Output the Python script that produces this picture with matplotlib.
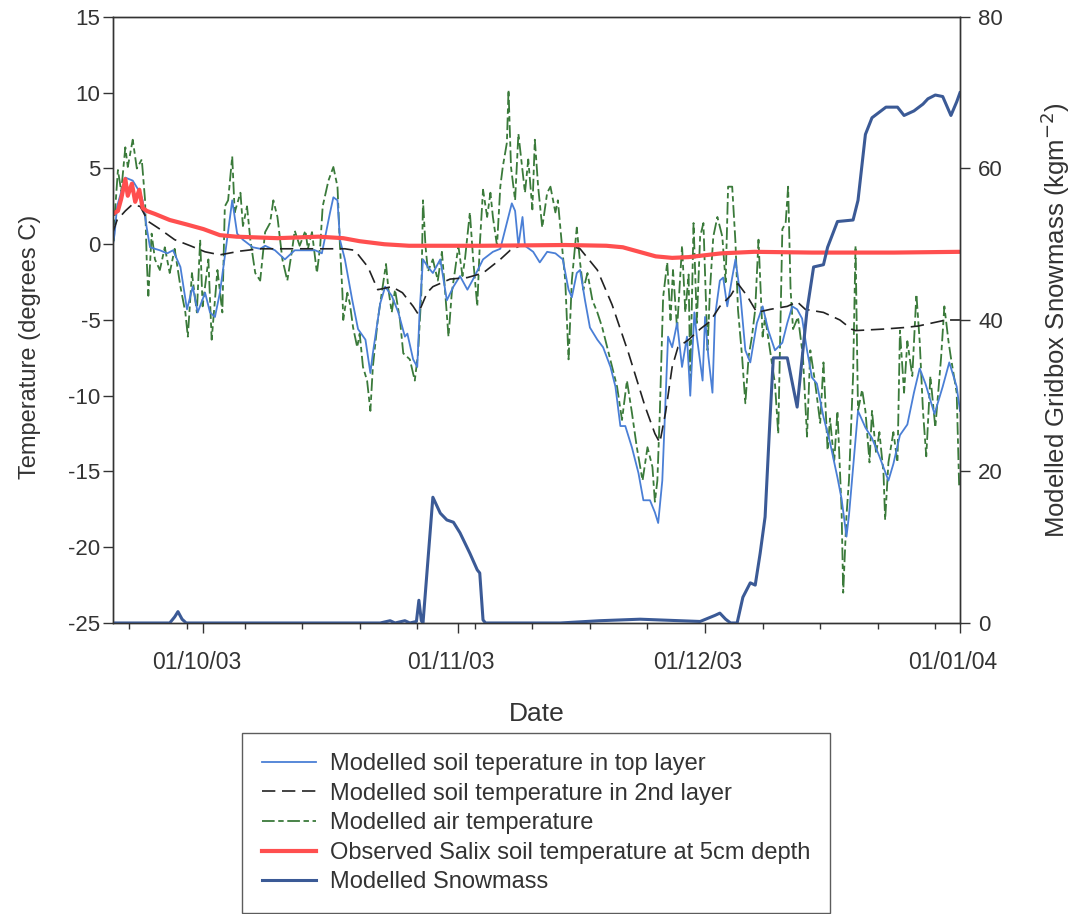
import matplotlib
matplotlib.use("Agg")
import matplotlib.pyplot as plt
import matplotlib.dates as mdates
import matplotlib.transforms as mtransforms
import numpy as np
import pandas as pd

plt.rcParams["font.family"] = ["Liberation Sans", "DejaVu Sans"]
plt.rcParams["axes.unicode_minus"] = False

# days since 20/09/2003
START = pd.Timestamp("2003-09-20")

air_day = [0.1, 0.2, 0.6, 1.0, 1.5, 1.8, 2.4, 2.9, 3.5, 3.9, 4.1, 4.3, 4.7, 5.1, 5.7, 6.3, 6.9, 7.5, 8.2, 8.8,
           9.1, 9.6, 10.2, 10.6, 10.9, 11.6, 12.0, 12.7, 13.3, 13.6, 14.0, 14.5, 14.8, 15.5, 15.8, 16.3, 16.7, 17.3, 17.9, 18.5,
           19.1, 19.5, 20.0, 20.6, 21.2, 21.8, 22.1, 22.7, 23.4, 23.7, 24.2, 24.8, 25.2, 25.5, 26.2, 26.8, 27.3, 27.6, 27.9, 28.0,
           28.5, 28.8, 29.2, 29.7, 30.0, 30.4, 30.9, 31.3, 31.6, 32.2, 32.8, 33.2, 33.5, 33.9, 34.3, 34.9, 35.3, 36.1, 36.7, 37.1,
           37.5, 37.7, 38.0, 38.3, 38.9, 39.5, 40.0, 40.4, 40.8, 41.2, 41.6, 42.0, 42.5, 42.8, 43.4, 43.8, 44.3, 44.6, 45.0, 45.5,
           45.9, 46.2, 46.7, 47.1, 47.4, 47.9, 48.1, 48.4, 48.9, 49.3, 49.8, 50.1, 50.5, 51.0, 51.3, 51.7, 52.2, 52.8, 53.2, 53.8,
           54.1, 54.6, 55.0, 55.4, 55.8, 56.4, 56.8, 57.2, 57.7, 58.3, 58.9, 59.5, 60.1, 60.7, 61.3, 61.9, 62.5, 63.1, 63.7, 64.4,
           65.0, 65.6, 65.9, 66.2, 66.5, 66.9, 67.4, 67.8, 68.1, 68.6, 69.2, 69.6, 70.0, 70.2, 70.6, 71.0, 71.4, 71.8, 72.3, 72.6,
           73.0, 73.5, 74.1, 74.5, 74.8, 75.3, 75.7, 76.0, 76.5, 76.9, 77.3, 77.7, 78.1, 78.5, 79.0, 79.3, 79.9, 80.5, 80.9, 81.4,
           81.8, 82.1, 82.4, 82.7, 83.3, 83.9, 84.4, 84.8, 85.4, 86.0, 86.4, 86.9, 87.2, 87.7, 88.1, 88.6, 88.8, 89.2, 89.5, 90.0,
           90.3, 90.6, 91.1, 91.5, 92.0, 92.3, 92.8, 93.2, 93.7, 93.9, 94.3, 94.9, 95.4, 95.7, 96.2, 96.6, 97.2, 97.7, 98.1, 98.5,
           98.9, 99.4, 100.0, 100.7, 101.1, 101.6, 101.9, 102.6, 102.9]
air_temp = [0.2, 1.8, 4.9, 3.5, 6.4, 5.1, 6.9, 5.0, 5.6, 2.9, -1.0, -3.4, 0.7, -1.0, -1.7, -0.2, -1.9, -0.3, -2.8, -4.5,
            -6.1, -1.9, -4.5, 0.3, -4.1, -1.0, -6.3, -1.7, -4.5, 2.5, 2.9, 5.8, 2.1, 3.4, 1.2, 2.5, 0.3, -1.9, -2.4, 0.8,
            1.4, 2.9, 1.8, -1.0, -2.4, -0.3, 0.9, -0.1, 0.9, -0.3, 0.8, -1.9, -0.1, 2.5, 4.2, 5.1, 3.8, -0.1, -3.2, -5.0,
            -3.2, -3.9, -5.5, -6.8, -5.9, -8.1, -9.0, -11.0, -8.1, -5.0, -2.8, -1.3, -3.0, -4.5, -3.0, -5.0, -7.2, -7.6, -9.0, -7.2,
            -3.2, 2.9, -0.1, -1.8, -1.0, -2.4, -0.5, -3.2, -6.1, -3.2, -1.7, -0.1, -2.1, -1.0, 2.1, -1.0, -4.1, -0.1, 3.6, 1.8,
            3.4, 1.8, -0.1, 3.8, 5.1, 6.7, 10.2, 5.1, 2.9, 7.3, 4.9, 3.4, 5.6, 2.3, 6.9, 3.8, 1.1, 3.4, 3.8, 2.1,
            2.9, -0.1, -2.4, -7.6, -2.4, 1.1, -1.2, -3.0, -1.9, -3.7, -4.5, -5.5, -6.8, -8.1, -9.4, -11.6, -9.0, -11.1, -13.4, -15.6,
            -13.4, -14.7, -17.0, -15.6, -11.1, -3.5, -1.2, -5.0, -1.7, -5.6, -0.1, -4.5, -2.0, -9.0, 1.4, -5.2, 0.5, 1.4, -7.0, -3.0,
            0.5, 1.8, 0.5, -2.5, 3.8, 3.8, 0.1, -4.3, -7.4, -10.5, -7.4, -6.1, -4.3, 0.3, -6.1, -4.8, -7.0, -9.2, -12.5, 1.0,
            1.4, 3.8, -3.0, -5.6, -4.8, -7.4, -12.7, -7.0, -9.2, -11.8, -7.8, -13.6, -11.5, -14.4, -11.0, -17.5, -23.0, -17.9, -15.6, -8.7,
            -0.1, -11.0, -9.6, -11.0, -14.4, -11.0, -13.8, -12.4, -15.1, -18.2, -14.4, -12.4, -14.4, -5.7, -9.8, -6.4, -8.7, -3.3, -6.4, -11.0,
            -14.0, -8.7, -12.1, -7.5, -4.1, -6.4, -7.5, -9.8, -16.0]

top_day = [0.0, 0.2, 0.5, 1.5, 2.4, 3.3, 3.6, 4.1, 4.5, 5.7, 6.6, 7.3, 8.2, 9.0, 9.7, 10.3, 11.2, 11.8, 12.4, 13.0,
           13.6, 14.5, 15.1, 15.8, 17.0, 17.9, 18.5, 19.7, 20.9, 22.1, 24.6, 25.4, 26.4, 26.8, 27.3, 27.6, 28.2, 29.1, 29.8, 30.7,
           31.3, 31.6, 32.5, 33.1, 33.9, 34.7, 35.5, 35.8, 36.5, 37.0, 37.3, 37.7, 38.3, 38.9, 39.8, 40.6, 41.4, 42.2, 43.1, 43.8,
           45.0, 46.2, 47.1, 47.9, 48.5, 48.9, 49.3, 49.8, 50.1, 51.1, 51.9, 52.8, 53.8, 54.7, 55.4, 55.8, 56.4, 56.8, 57.4, 58.0,
           58.9, 59.6, 60.5, 61.1, 61.7, 62.3, 63.1, 63.9, 64.5, 65.3, 65.9, 66.3, 66.8, 67.2, 67.5, 68.0, 68.6, 69.2, 69.8, 70.2,
           70.7, 71.0, 71.7, 72.0, 72.4, 72.9, 73.2, 73.8, 74.2, 74.7, 75.3, 75.7, 76.3, 76.9, 77.5, 78.3, 79.0, 79.7, 80.5, 81.4,
           82.0, 82.6, 83.2, 83.8, 84.4, 85.0, 85.6, 86.4, 87.2, 88.1, 88.6, 89.2, 89.5, 90.3, 90.6, 91.5, 92.3, 93.2, 94.3, 94.9,
           95.7, 96.6, 97.4, 98.1, 98.8, 99.9, 100.9, 101.7, 102.6, 103.0]
top_temp = [0.0, 0.7, 2.5, 4.4, 4.2, 3.4, 2.9, 1.1, -0.2, -0.4, -0.6, -0.4, -1.5, -4.3, -2.8, -4.5, -3.2, -4.5, -4.8, -3.2,
            -0.8, 2.9, 0.7, 0.3, -0.2, -0.3, -0.1, -0.4, -1.0, -0.4, -0.4, -0.6, 2.1, 3.1, 2.9, 0.3, -1.0, -3.7, -5.6, -6.3,
            -8.5, -7.2, -3.9, -2.8, -3.4, -4.5, -6.1, -5.9, -7.6, -8.1, -4.3, -1.0, -1.5, -1.9, -1.0, -3.7, -2.8, -2.1, -3.0, -2.3,
            -1.0, -0.5, -0.3, 1.4, 2.7, 2.2, -0.1, 1.8, -0.1, -0.5, -1.2, -0.5, -0.6, -1.0, -3.0, -3.5, -1.9, -1.7, -3.7, -5.5,
            -6.3, -6.8, -8.1, -9.4, -12.0, -12.0, -13.4, -15.1, -16.9, -16.9, -17.7, -18.4, -15.6, -10.1, -6.1, -6.8, -5.2, -8.1, -6.1, -10.0,
            -4.5, -6.1, -9.0, -4.8, -7.4, -9.8, -4.8, -2.4, -2.2, -4.1, -2.2, -1.0, -3.4, -7.0, -7.8, -5.2, -4.1, -5.7, -7.0, -6.5,
            -5.2, -4.1, -4.3, -4.9, -7.0, -8.8, -9.2, -11.4, -13.1, -15.4, -16.8, -19.3, -17.9, -12.9, -11.0, -12.1, -12.8, -14.0, -15.6, -14.5,
            -12.6, -11.9, -9.8, -8.2, -9.2, -11.2, -9.4, -7.8, -9.4, -11.0]

second_day = [0.0, 0.5, 1.5, 2.3, 3.3, 4.3, 5.7, 7.5, 9.4, 11.2, 13.0, 15.5, 17.9, 22.7, 26.4, 28.2, 29.4, 31.0, 32.2, 33.9,
              35.2, 36.5, 37.1, 38.2, 38.9, 41.0, 43.1, 45.0, 47.1, 48.3, 49.5, 55.6, 56.8, 58.9, 60.7, 62.7, 64.7, 65.9, 66.5, 67.2,
              68.0, 68.7, 70.0, 71.4, 72.6, 73.8, 75.1, 76.0, 77.1, 78.3, 79.9, 82.0, 83.2, 84.2, 86.4, 88.4, 89.8, 90.3, 93.7, 96.2,
              97.9, 101.3, 103.0]
second_temp = [0.8, 1.6, 2.2, 2.6, 2.5, 1.5, 1.0, 0.3, -0.1, -0.5, -0.7, -0.45, -0.3, -0.3, -0.3, -0.3, -0.4, -1.5, -3.0, -2.8,
               -3.2, -4.1, -4.6, -3.2, -2.8, -2.3, -2.2, -1.9, -1.0, -0.4, -0.1, -0.1, -0.3, -1.7, -4.0, -7.2, -10.7, -12.5, -13.1, -11.1,
               -8.1, -6.8, -6.3, -5.6, -5.1, -4.1, -3.4, -2.6, -3.4, -4.5, -4.3, -4.1, -3.8, -4.3, -4.5, -5.0, -5.6, -5.7, -5.6, -5.5,
               -5.4, -5.0, -5.0]

obs_day = [0.0, 0.6, 1.0, 1.5, 1.8, 2.3, 2.7, 3.2, 3.6, 4.1, 5.1, 6.9, 9.0, 11.0, 13.0, 15.0, 20.0, 25.0, 28.0, 30.0,
           33.0, 36.0, 45.0, 55.0, 60.0, 62.0, 64.0, 66.0, 68.0, 70.0, 74.0, 78.0, 85.0, 95.0, 103.0]
obs_temp = [2.0, 2.2, 3.0, 4.3, 3.2, 4.0, 2.8, 3.6, 2.4, 2.2, 2.0, 1.6, 1.3, 1.0, 0.6, 0.5, 0.4, 0.5, 0.4, 0.2,
            0.0, -0.1, -0.1, -0.05, -0.1, -0.2, -0.5, -0.8, -0.9, -0.85, -0.6, -0.5, -0.55, -0.55, -0.5]

snow_day = [0.0, 6.9, 7.5, 7.9, 8.4, 8.9, 32.5, 33.7, 34.3, 35.5, 36.1, 36.9, 37.2, 37.5, 37.7, 38.9, 39.8, 40.6, 41.4, 42.2,
            43.4, 44.3, 44.6, 45.0, 45.3, 54.4, 59.2, 64.1, 66.5, 71.4, 73.2, 73.8, 74.5, 75.1, 75.9, 76.6, 77.5, 78.1, 78.7, 79.3,
            79.9, 80.3, 82.0, 83.2, 84.4, 85.2, 86.4, 86.9, 88.1, 90.0, 90.6, 91.5, 92.3, 94.0, 95.4, 96.2, 97.4, 98.5, 99.1, 100.0,
            100.9, 101.9, 102.6, 103.0]
snow_mass = [0, 0, 0.8, 1.5, 0.5, 0, 0, 0.3, 0, 0.3, 0, 0.2, 3.0, 0.3, 0, 16.6, 14.5, 13.6, 13.3, 11.9,
             9.2, 7.0, 6.6, 0.4, 0, 0, 0.3, 0.5, 0.4, 0.2, 1.0, 1.3, 0.5, 0, 0, 3.4, 5.3, 5.0, 9.2, 14.0,
             27.0, 35.0, 35.0, 28.5, 41.3, 47.0, 47.3, 49.6, 53.0, 53.2, 55.8, 64.5, 66.7, 68.1, 68.1, 67.0, 67.6, 68.5, 69.2, 69.7,
             69.5, 67.0, 68.8, 70.0]


def to_dates(days):
    return START + pd.to_timedelta(np.asarray(days, dtype=float), unit="D")


fig = plt.figure(figsize=(10.72, 9.14), dpi=100)
ax = fig.add_axes([0.1054, 0.3184, 0.7901, 0.6630])

h_air, = ax.plot(to_dates(air_day), air_temp, color="#3a7a3a", lw=1.3,
                 ls=(0, (7, 2, 3, 2)), label="Modelled air temperature")
h_top, = ax.plot(to_dates(top_day), top_temp, color="#4a7fd6", lw=1.3,
                 label="Modelled soil teperature in top layer")
h_2nd, = ax.plot(to_dates(second_day), second_temp, color="#222222", lw=1.2,
                 ls=(0, (8, 4)), label="Modelled soil temperature in 2nd layer")
h_obs, = ax.plot(to_dates(obs_day), obs_temp, color="#ff4f4f", lw=3,
                 label="Observed Salix soil temperature at 5cm depth")

ax.set_ylim(-25, 15)
ax.set_yticks(range(-25, 16, 5))
ax.set_xlim(START, pd.Timestamp("2004-01-01"))
ax.xaxis.set_major_locator(mdates.MonthLocator())
ax.xaxis.set_major_formatter(mdates.DateFormatter("%d/%m/%y"))
ax.xaxis.set_minor_locator(mdates.WeekdayLocator(byweekday=mdates.MO))
ax.set_xlabel("Date", fontsize=19, color="#333333", labelpad=20)
ax.set_ylabel("Temperature (degrees C)", fontsize=17, color="#333333")
ax.yaxis.set_label_coords(-0.085, 0.455)

ax2 = ax.twinx()
h_snow, = ax2.plot(to_dates(snow_day), snow_mass, color="#3b5a96", lw=2.2,
                   label="Modelled Snowmass")
ax2.set_ylim(0, 80)
ax2.set_yticks(range(0, 81, 20))
ax2.set_ylabel("Modelled Gridbox Snowmass (kgm$^{-2}$)", fontsize=18.5,
               color="#333333")
ax2.yaxis.set_label_coords(1.093, 0.5)

for a in (ax, ax2):
    a.tick_params(which="major", direction="out", length=7, width=1,
                  labelsize=16, colors="#333333", pad=2)
    a.tick_params(which="minor", direction="out", length=4, width=1, colors="#333333")
    for s in a.spines.values():
        s.set_color("#333333")
        s.set_linewidth(1)
ax.tick_params(axis="x", which="major", pad=13, labelsize=16.5)
ax2.tick_params(axis="y", pad=6)

# month labels sit a little left of their ticks in the original
shift = mtransforms.ScaledTranslation(-7 / 100, 0, fig.dpi_scale_trans)
for lbl in ax.get_xticklabels():
    lbl.set_transform(lbl.get_transform() + shift)

handles = [h_top, h_2nd, h_air, h_obs, h_snow]
leg = fig.legend(handles, [h.get_label() for h in handles], loc="upper center",
                 bbox_to_anchor=(0.5, 0.198), borderaxespad=0, fontsize=17,
                 frameon=True, fancybox=False, edgecolor="#333333",
                 handlelength=2.3, handletextpad=0.6, labelspacing=0.32,
                 borderpad=0.85)
leg.get_frame().set_linewidth(1)
for t in leg.get_texts():
    t.set_color("#333333")

fig.savefig("out.png", dpi=100)
